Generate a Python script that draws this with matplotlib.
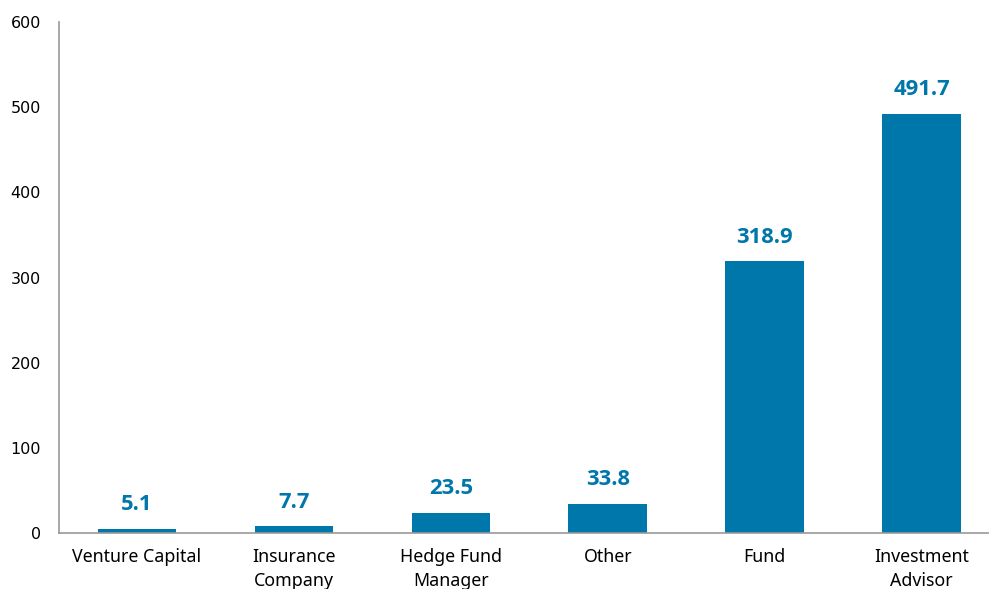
import matplotlib.pyplot as plt

categories = ['Venture Capital', 'Insurance\nCompany', 'Hedge Fund\nManager',
              'Other', 'Fund', 'Investment\nAdvisor']
values = [5.1, 7.7, 23.5, 33.8, 318.9, 491.7]

bar_color = '#0077AA'

fig = plt.figure(figsize=(9.89, 5.89), dpi=100)
ax = fig.add_axes([59 / 989, 56 / 589, 930 / 989, 511 / 589])

x = range(len(categories))
bars = ax.bar(x, values, width=0.5, color=bar_color)

for rect, v in zip(bars, values):
    ax.annotate(f'{v:.1f}', (rect.get_x() + rect.get_width() / 2, v),
                xytext=(0, 10), textcoords='offset points',
                ha='center', va='bottom', fontsize=15.8, fontweight='bold',
                color=bar_color, family=['Open Sans', 'DejaVu Sans'])

ax.set_xlim(-0.497, 5.43)
ax.set_ylim(0, 600)
ax.set_yticks(range(0, 601, 100))
ax.set_xticks(list(x))
ax.set_xticklabels(categories, fontsize=12.8, family=['Noto Sans', 'DejaVu Sans'],
                   linespacing=1.4)
ax.tick_params(axis='x', length=0, pad=11)
ax.tick_params(axis='y', length=0, pad=13, labelsize=11.5)

for side in ['top', 'right']:
    ax.spines[side].set_visible(False)
for side in ['left', 'bottom']:
    ax.spines[side].set_color('#999999')
    ax.spines[side].set_linewidth(1.2)

fig.savefig('out.png', dpi=100)
